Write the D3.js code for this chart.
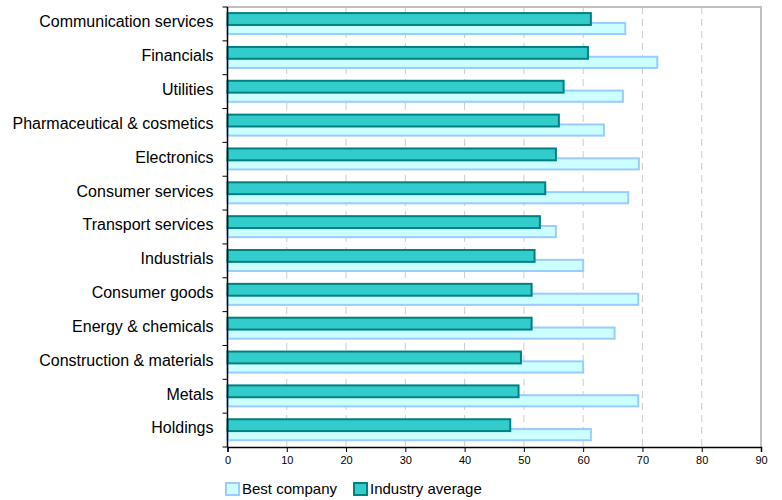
<!DOCTYPE html>
<html>
<head>
<meta charset="utf-8">
<script src="https://cdn.jsdelivr.net/npm/d3@7"></script>
<style>
  html, body { margin: 0; padding: 0; background: #fff; }
  svg { display: block; font-family: "Liberation Sans", Arial, sans-serif; }
</style>
</head>
<body>
<svg id="chart" width="782" height="500"></svg>
<script>
// Sector scores: industry average vs. best company in each sector
const categories = [
  "Communication services", "Financials", "Utilities", "Pharmaceutical & cosmetics",
  "Electronics", "Consumer services", "Transport services", "Industrials",
  "Consumer goods", "Energy & chemicals", "Construction & materials", "Metals", "Holdings"
];
const industryAverage = [61.3, 60.8, 56.7, 55.9, 55.4, 53.6, 52.7, 51.8, 51.3, 51.3, 49.5, 49.1, 47.7];
const bestCompany     = [67.1, 72.5, 66.7, 63.5, 69.4, 67.6, 55.4, 60.0, 69.3, 65.3, 60.0, 69.3, 61.3];
const xTicks = [0, 10, 20, 30, 40, 50, 60, 70, 80, 90];
const seriesNames = ["Best company", "Industry average"];

const svg = d3.select("#chart");
const plot = { left: 227.5, right: 761, top: 7, bottom: 447 };

const x = d3.scaleLinear().domain([0, 90]).range([plot.left, plot.right]);
const y = d3.scaleBand().domain(categories).range([plot.top, plot.bottom]);
const bw = y.bandwidth();

// dashed vertical gridlines
svg.append("g")
  .selectAll("line")
  .data(xTicks.slice(1, -1))
  .join("line")
  .attr("x1", d => x(d)).attr("x2", d => x(d))
  .attr("y1", plot.top).attr("y2", plot.bottom)
  .attr("stroke", "#cccccc").attr("stroke-width", 1)
  .attr("stroke-dasharray", "7,5");

// top and right frame
svg.append("path")
  .attr("d", `M${plot.left},${plot.top}H${plot.right}V${plot.bottom}`)
  .attr("fill", "none").attr("stroke", "#c0c0c0").attr("stroke-width", 2);

// best company bars (behind)
svg.append("g")
  .selectAll("rect")
  .data(categories)
  .join("rect")
  .attr("x", x(0))
  .attr("y", d => y(d) + bw * 0.47)
  .attr("width", (d, i) => x(bestCompany[i]) - x(0))
  .attr("height", bw * 0.33)
  .attr("fill", "#ccffff").attr("stroke", "#99ccff").attr("stroke-width", 2);

// industry average bars (in front)
svg.append("g")
  .selectAll("rect")
  .data(categories)
  .join("rect")
  .attr("x", x(0))
  .attr("y", d => y(d) + bw * 0.18)
  .attr("width", (d, i) => x(industryAverage[i]) - x(0))
  .attr("height", bw * 0.35)
  .attr("fill", "#33cccc").attr("stroke", "#008080").attr("stroke-width", 2);

// x axis
const xAxis = svg.append("g")
  .attr("transform", `translate(0,${plot.bottom})`)
  .call(d3.axisBottom(x).tickValues(xTicks).tickSize(5).tickPadding(4).tickFormat(d3.format("d")));
xAxis.select(".domain").attr("stroke", "#000").attr("stroke-width", 1.5);
xAxis.selectAll(".tick line").attr("stroke", "#000");
xAxis.selectAll("text").attr("font-size", 11).attr("fill", "#000")
  .attr("font-family", "'Liberation Sans', Arial, sans-serif");

// y axis: category separators as ticks
const yAxis = svg.append("g").attr("transform", `translate(${plot.left},0)`);
yAxis.append("line")
  .attr("x1", 0).attr("x2", 0).attr("y1", plot.top).attr("y2", plot.bottom)
  .attr("stroke", "#000").attr("stroke-width", 1.5);
yAxis.selectAll("line.sep")
  .data(d3.range(categories.length + 1))
  .join("line").attr("class", "sep")
  .attr("x1", -5).attr("x2", 0)
  .attr("y1", i => plot.top + i * bw).attr("y2", i => plot.top + i * bw)
  .attr("stroke", "#000");
yAxis.selectAll("text")
  .data(categories)
  .join("text")
  .attr("x", -14)
  .attr("y", d => y(d) + bw * 0.435)
  .attr("dy", "0.35em")
  .attr("text-anchor", "end")
  .attr("font-size", 16)
  .attr("fill", "#000")
  .text(d => d);

// legend
const legendColors = [
  { fill: "#ccffff", stroke: "#99ccff" },
  { fill: "#33cccc", stroke: "#008080" }
];
const legendX = [226, 354];
const legend = svg.append("g");
seriesNames.forEach((name, i) => {
  const g = legend.append("g").attr("transform", `translate(${legendX[i]},483)`);
  g.append("rect").attr("x", 0).attr("y", 0).attr("width", 13).attr("height", 12)
    .attr("fill", legendColors[i].fill).attr("stroke", legendColors[i].stroke).attr("stroke-width", 2);
  g.append("text").attr("x", 16).attr("y", 6).attr("dy", "0.35em")
    .attr("font-size", 15).attr("fill", "#000").text(name);
});
</script>
</body>
</html>
